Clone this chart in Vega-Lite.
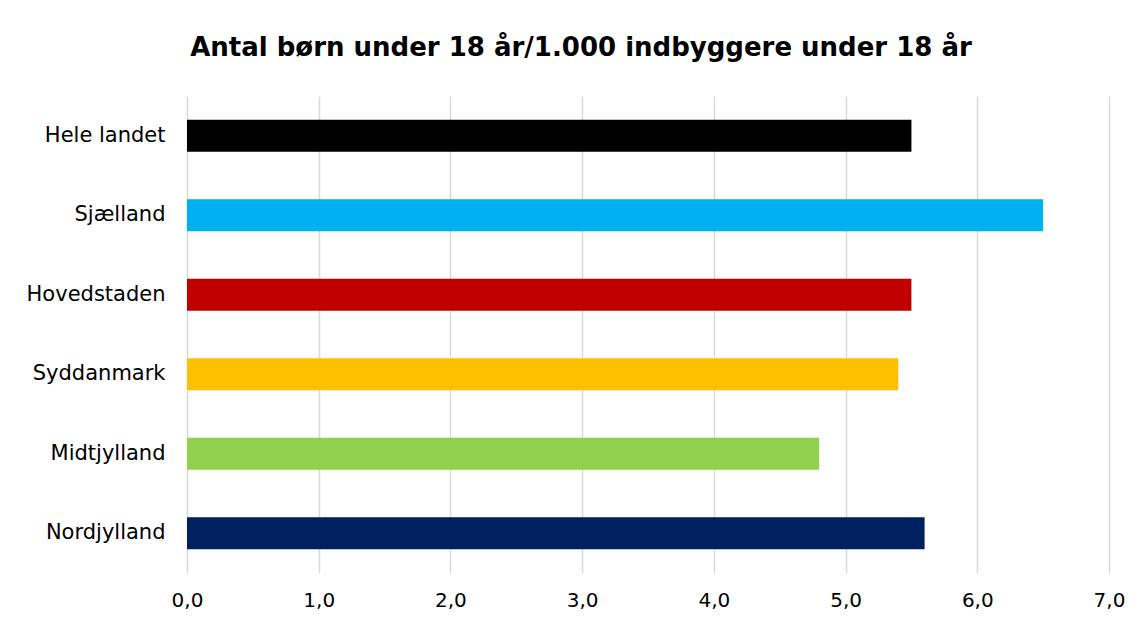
{
  "$schema": "https://vega.github.io/schema/vega-lite/v6.json",
  "autosize": "none",
  "width": 922,
  "height": 477,
  "padding": {"left": 187, "top": 96, "right": 34, "bottom": 49},
  "background": "white",
  "title": {
    "text": "Antal børn under 18 år/1.000 indbyggere under 18 år",
    "font": "DejaVu Sans",
    "fontSize": 26,
    "fontWeight": "bold",
    "color": "#000000",
    "anchor": "middle",
    "dx": -67,
    "baseline": "alphabetic",
    "offset": 14
  },
  "data": {
    "values": [
      {"region": "Hele landet", "value": 5.5},
      {"region": "Sjælland", "value": 6.5},
      {"region": "Hovedstaden", "value": 5.5},
      {"region": "Syddanmark", "value": 5.4},
      {"region": "Midtjylland", "value": 4.8},
      {"region": "Nordjylland", "value": 5.6}
    ]
  },
  "mark": {"type": "bar"},
  "encoding": {
    "y": {
      "field": "region",
      "type": "nominal",
      "sort": null,
      "title": null,
      "scale": {"paddingInner": 0.6, "paddingOuter": 0.3},
      "axis": {
        "domain": false,
        "ticks": false,
        "grid": false,
        "labelFont": "DejaVu Sans",
        "labelFontSize": 21,
        "labelColor": "#000000",
        "labelPadding": 22
      }
    },
    "x": {
      "field": "value",
      "type": "quantitative",
      "title": null,
      "scale": {"domain": [0, 7], "nice": false},
      "axis": {
        "values": [0, 1, 2, 3, 4, 5, 6, 7],
        "format": ".1f",
        "labelExpr": "replace(datum.label, '.', ',')",
        "labelFlush": false,
        "domain": false,
        "ticks": false,
        "grid": true,
        "gridColor": "#d9d9d9",
        "gridWidth": 1.5,
        "labelFont": "DejaVu Sans",
        "labelFontSize": 20,
        "labelColor": "#000000",
        "labelPadding": 17
      }
    },
    "color": {
      "field": "region",
      "type": "nominal",
      "legend": null,
      "scale": {
        "domain": ["Hele landet", "Sjælland", "Hovedstaden", "Syddanmark", "Midtjylland", "Nordjylland"],
        "range": ["#000000", "#00B0F0", "#C00000", "#FFC000", "#92D050", "#002060"]
      }
    }
  },
  "config": {"view": {"stroke": null}}
}
